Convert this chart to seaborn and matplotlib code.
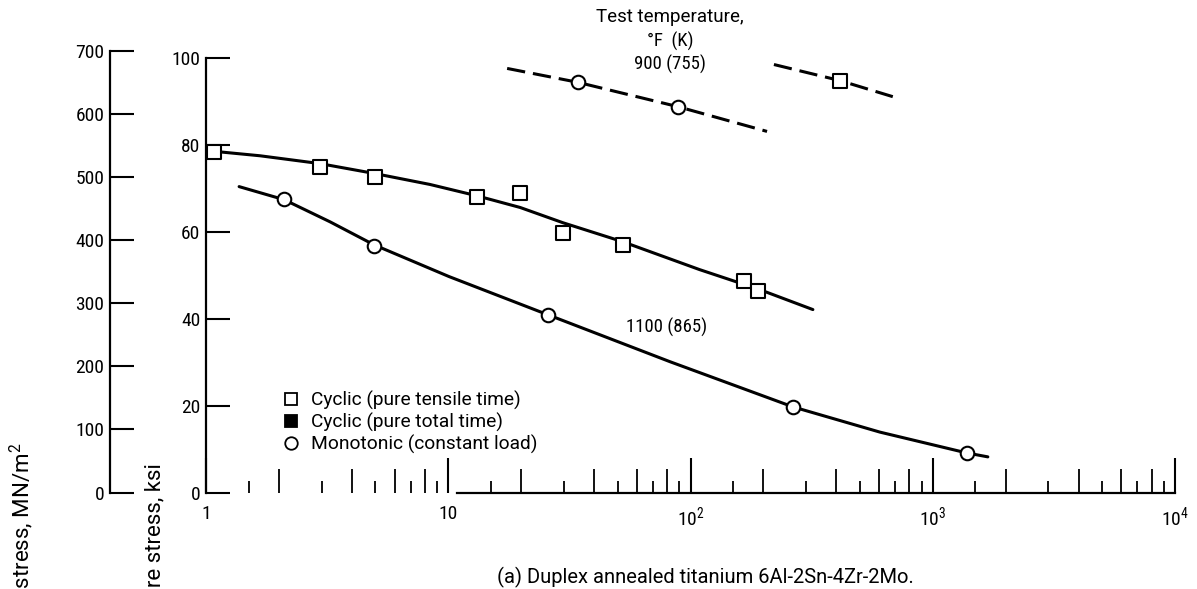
import matplotlib
matplotlib.use("Agg")
import matplotlib.pyplot as plt
from matplotlib import font_manager
from matplotlib.lines import Line2D
from matplotlib.ticker import FixedLocator, NullFormatter, NullLocator
import seaborn as sns

# ---- data: rupture time (hr) vs rupture stress (ksi) ----
# 1100 F (865 K), cyclic, pure tensile time
cyc_1100_hours = [1.08, 2.95, 4.98, 13.1, 19.8, 29.7, 52.6, 166, 190]
cyc_1100_ksi = [78.3, 75.0, 72.7, 67.9, 69.0, 59.8, 57.0, 48.7, 46.4]
# faired curve through the cyclic 1100 F data
cyc_1100_fit_hours = [1.0, 1.67, 2.95, 4.98, 8.40, 13.1, 19.8, 29.7, 52.6, 109, 193, 320]
cyc_1100_fit_ksi = [78.7, 77.5, 75.7, 73.4, 70.9, 68.3, 65.6, 62.1, 57.7, 51.3, 46.7, 42.1]

# 1100 F (865 K), monotonic (constant load)
mono_1100_hours = [2.10, 4.94, 25.8, 265, 1383]
mono_1100_ksi = [67.6, 56.8, 40.9, 19.7, 9.1]
mono_1100_fit_hours = [1.37, 2.10, 3.25, 4.94, 10.07, 25.8, 82.3, 265, 605, 1383, 1688]
mono_1100_fit_ksi = [70.4, 67.4, 62.3, 57.0, 49.7, 40.9, 30.1, 19.7, 13.9, 9.1, 8.2]

# 900 F (755 K), monotonic
mono_900_hours = [34.3, 88.7]
mono_900_ksi = [94.4, 88.8]
mono_900_fit_hours = [17.5, 34.3, 88.7, 207]
mono_900_fit_ksi = [97.6, 94.4, 88.8, 83.1]

# 900 F (755 K), cyclic
cyc_900_hours = [414]
cyc_900_ksi = [94.8]
cyc_900_fit_hours = [221, 414, 684]
cyc_900_fit_ksi = [98.5, 94.8, 91.1]

ksi_ticks = [0, 20, 40, 60, 80, 100]
mn_ticks = [0, 100, 200, 300, 400, 500, 600, 700]
x_ticks = [1, 10, 100, 1000, 10000]
x_ticklabels = ["1", "10", r"$\mathregular{10^2}$", r"$\mathregular{10^3}$", r"$\mathregular{10^4}$"]
legend_labels = ["Cyclic (pure tensile time)", "Cyclic (pure total time)",
                 "Monotonic (constant load)"]
KSI_TO_MN = 6.895

sns.set_style("ticks")

# narrow face for numerals, regular face for worded text
names = {f.name for f in font_manager.fontManager.ttflist}
narrow = next((n for n in ("Roboto Condensed", "Liberation Sans Narrow", "Open Sans Condensed")
               if n in names), "DejaVu Sans")
wide = "Roboto" if "Roboto" in names else narrow

plt.rcParams["font.family"] = [narrow, "DejaVu Sans"]
plt.rcParams["mathtext.fontset"] = "custom"
plt.rcParams["mathtext.rm"] = narrow
plt.rcParams["mathtext.it"] = narrow
plt.rcParams["mathtext.bf"] = narrow
for key in ("text.color", "axes.labelcolor", "xtick.color", "ytick.color", "axes.edgecolor"):
    plt.rcParams[key] = "black"

W, H = 1197, 589
fig = plt.figure(figsize=(W / 100, H / 100), dpi=100)

ax_bottom = (H - 492.5) / H
ax_height = 434.5 / H
ax = fig.add_axes([206 / W, ax_bottom, 969 / W, ax_height])
ax.set_xscale("log")
ax.set_xlim(1, 1e4)
ax.set_ylim(0, 100)

LW = 2.2
line_kw = dict(color="black", linewidth=LW, estimator=None, sort=False, legend=False)
sns.lineplot(x=cyc_1100_fit_hours, y=cyc_1100_fit_ksi, ax=ax, **line_kw)
sns.lineplot(x=mono_1100_fit_hours, y=mono_1100_fit_ksi, ax=ax, **line_kw)
sns.lineplot(x=mono_900_fit_hours, y=mono_900_fit_ksi, ax=ax, linestyle=(0, (6, 2.6)), **line_kw)
sns.lineplot(x=cyc_900_fit_hours, y=cyc_900_fit_ksi, ax=ax, linestyle=(0, (6, 2.6)), **line_kw)

pt_kw = dict(s=95, facecolor="white", edgecolor="black", linewidth=1.5, zorder=4,
             legend=False, clip_on=False)
sns.scatterplot(x=cyc_1100_hours, y=cyc_1100_ksi, marker="s", ax=ax, **pt_kw)
sns.scatterplot(x=cyc_900_hours, y=cyc_900_ksi, marker="s", ax=ax, **pt_kw)
sns.scatterplot(x=mono_1100_hours, y=mono_1100_ksi, marker="o", ax=ax, **pt_kw)
sns.scatterplot(x=mono_900_hours, y=mono_900_ksi, marker="o", ax=ax, **pt_kw)

# axes styling
for side in ("top", "right"):
    ax.spines[side].set_visible(False)
ax.spines["left"].set_linewidth(1.6)
ax.spines["bottom"].set_linewidth(1.6)
ax.spines["bottom"].set_bounds(10.9, 1e4)
ax.set_xlabel("")
ax.set_ylabel("")

ax.set_yticks(ksi_ticks)
ax.tick_params(axis="y", direction="in", length=17, width=1.5, pad=4, labelsize=14)
ax.xaxis.set_major_locator(FixedLocator(x_ticks))
ax.set_xticklabels(x_ticklabels)
ax.xaxis.set_minor_locator(FixedLocator([m * 10 ** d for d in range(4) for m in (2, 4, 6, 8)]))
ax.xaxis.set_minor_formatter(NullFormatter())
ax.tick_params(axis="x", which="major", direction="in", length=25, width=1.5, pad=9, labelsize=14)
ax.tick_params(axis="x", which="minor", direction="in", length=17, width=1.3)

# short intermediate ticks (1.5, 3, 5, 7, 9 per decade)
ax_short = ax.twiny()
ax_short.set_xscale("log")
ax_short.set_xlim(1, 1e4)
ax_short.xaxis.set_ticks_position("bottom")
ax_short.xaxis.set_major_locator(FixedLocator([m * 10 ** d for d in range(4) for m in (1.5, 3, 5, 7, 9)]))
ax_short.xaxis.set_minor_locator(NullLocator())
ax_short.tick_params(axis="x", which="major", direction="in", length=8.5, width=1.3,
                     labelbottom=False, labeltop=False, top=False, bottom=True)
for sp in ax_short.spines.values():
    sp.set_visible(False)

# companion SI stress axis
ax_si = fig.add_axes([110 / W, ax_bottom, 0.01, (700 / KSI_TO_MN) * 4.345 / H])
ax_si.set_ylim(0, 700)
ax_si.set_yticks(mn_ticks)
ax_si.patch.set_visible(False)
ax_si.xaxis.set_visible(False)
for side in ("top", "right", "bottom"):
    ax_si.spines[side].set_visible(False)
ax_si.spines["left"].set_linewidth(1.6)
ax_si.tick_params(axis="y", direction="in", length=17, width=1.5, pad=4, labelsize=14)

# axis titles (rotated, running off the lower edge)
fig.text(23 / W, 1 - 443 / H, r"Rupture stress, MN/m$\mathregular{^2}$", rotation=90,
         ha="center", va="top", fontsize=16, family=[wide, "DejaVu Sans"])
fig.text(155 / W, 1 - 463 / H, "Rupture stress, ksi", rotation=90,
         ha="center", va="top", fontsize=16, family=[wide, "DejaVu Sans"])

# annotations
fig.text(670 / W, 1 - 17 / H, "Test temperature,", ha="center", va="center",
         fontsize=13.5, family=[wide, "DejaVu Sans"])
fig.text(670 / W, 1 - 41 / H, "\u00b0F  (K)", ha="center", va="center", fontsize=13.5)
fig.text(670 / W, 1 - 64 / H, "900 (755)", ha="center", va="center", fontsize=13.5)
fig.text(667 / W, 1 - 327 / H, "1100 (865)", ha="center", va="center", fontsize=13.5)
fig.text(705 / W, 1 - 577 / H, "(a) Duplex annealed titanium 6Al-2Sn-4Zr-2Mo.",
         ha="center", va="center", fontsize=14.5, family=[wide, "DejaVu Sans"])

handles = [
    Line2D([], [], marker="s", ls="none", mfc="white", mec="black", ms=9, mew=1.3),
    Line2D([], [], marker="s", ls="none", mfc="black", mec="black", ms=9, mew=1.3),
    Line2D([], [], marker="o", ls="none", mfc="white", mec="black", ms=9, mew=1.3),
]
ax.legend(handles, legend_labels, loc="upper left", bbox_to_anchor=(284 / W, 1 - 391 / H),
          bbox_transform=fig.transFigure, frameon=False, borderpad=0, borderaxespad=0,
          handlelength=0.7, handletextpad=0.7, labelspacing=0.15,
          prop={"family": [wide, "DejaVu Sans"], "size": 13.8})

fig.savefig("out.png", dpi=100)
